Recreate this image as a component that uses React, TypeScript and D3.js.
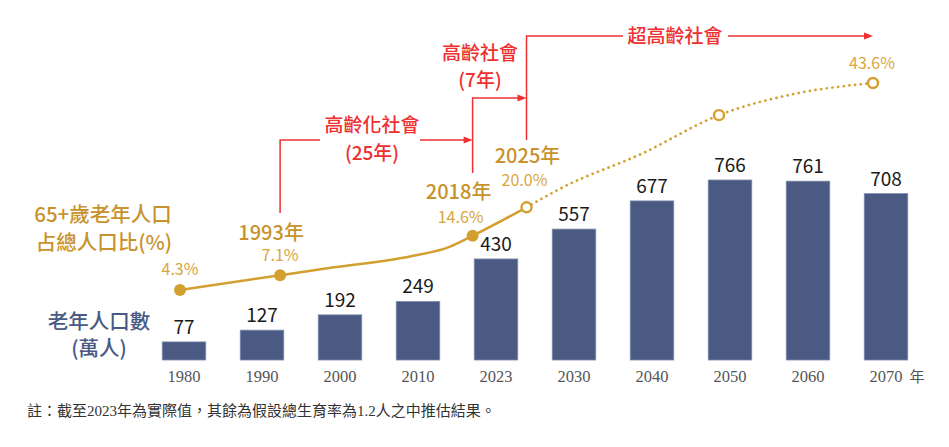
import React from "react";
import * as d3 from "d3";

const W = 949;
const H = 447;

// Bars: elderly population (10k persons)
const categories = ["1980", "1990", "2000", "2010", "2023", "2030", "2040", "2050", "2060", "2070"];
const elderly = [77, 127, 192, 249, 430, 557, 677, 766, 761, 708];

// Line: share of 65+ (%), actual (solid) and projected (dotted)
const actualYears = [1980, 1993, 2000, 2010, 2015, 2018, 2025];
const actualPct = [4.3, 7.1, 8.6, 10.7, 12.5, 14.6, 20.0];
const projYears = [2025, 2030, 2040, 2050, 2060, 2070];
const projPct = [20.0, 24.0, 30.2, 37.5, 41.6, 43.6];

const solidMarkYears = [1980, 1993, 2018];
const solidMarkPct = [4.3, 7.1, 14.6];
const hollowMarkYears = [2025, 2050, 2070];
const hollowMarkPct = [20.0, 37.5, 43.6];

const pctLabelYears = [1980, 1993, 2018, 2025, 2070];
const pctLabelValues = [4.3, 7.1, 14.6, 20.0, 43.6];
const pctLabels = ["4.3%", "7.1%", "14.6%", "20.0%", "43.6%"];
const yearLabelYears = [1993, 2018, 2025];
const yearLabelValues = [7.1, 14.6, 20.0];
const yearLabels = ["1993年", "2018年", "2025年"];

const stageNames = ["高齡化社會", "高齡社會", "超高齡社會"];
const stageDurations = ["(25年)", "(7年)", ""];
const stageYears = [1993, 2018, 2025, 2070];

const note = "註：截至2023年為實際值，其餘為假設總生育率為1.2人之中推估結果。";

const BAR = "#4A5A82";
const GOLD_LINE = "#D39F31";
const GOLD_TEXT = "#C8922C";
const GOLD_LIGHT = "#D9A640";
const RED = "#EE3030";
const SANS = "'Noto Sans CJK TC', 'Noto Sans', sans-serif";
const SERIF = "'Liberation Serif', 'Noto Sans CJK TC', serif";

export default function App() {
  const x = d3.scaleBand<string>().domain(categories).range([145, 925]).paddingInner(0.442).paddingOuter(0.221);
  const y = d3.scaleLinear().domain([0, 766]).range([360, 180]);
  const xYear = d3.scaleLinear().domain([1980, 2070]).range([180, 873]);
  const yPct = d3.scaleLinear().domain([4.3, 43.6]).range([290, 83]);

  const line = d3
    .line<[number, number]>()
    .x((d) => xYear(d[0]))
    .y((d) => yPct(d[1]))
    .curve(d3.curveMonotoneX);

  const actualPath = line(actualYears.map((yr, i) => [yr, actualPct[i]] as [number, number])) || "";
  const projPath = line(projYears.map((yr, i) => [yr, projPct[i]] as [number, number])) || "";

  const pctLabelOffset: [number, number][] = [
    [0, -15],
    [0, -14],
    [-12, -13],
    [-2, -21],
    [-1, -14],
  ];
  const yearLabelOffset: [number, number][] = [
    [-9, -35],
    [-14, -37],
    [1, -44],
  ];

  // annotation geometry
  const sx = stageYears.map((s) => xYear(s));
  const levels = [140, 98, 36];
  const bottoms = [213, 173, 140];
  const textCx = [372, 480, 675];
  const gaps: [number, number][] = [
    [320, 420],
    [0, 0],
    [623, 728],
  ];

  const arrow = (tx: number, ty: number) => `M${tx},${ty} L${tx - 9},${ty - 3.5} L${tx - 9},${ty + 3.5} Z`;

  return (
    <svg
      width={W}
      height={H}
      viewBox={`0 0 ${W} ${H}`}
      style={{ position: "absolute", left: 0, top: 0, background: "#fff" }}
    >
      {/* bars */}
      {categories.map((c, i) => (
        <g key={c}>
          <rect
            x={x(c)}
            y={y(elderly[i])}
            width={x.bandwidth()}
            height={y(0) - y(elderly[i])}
            fill={BAR}
            stroke="#7D8BAE"
            strokeWidth={0.8}
          />
          <text
            x={(x(c) as number) + x.bandwidth() / 2}
            y={y(elderly[i]) - 8}
            textAnchor="middle"
            fontFamily={SANS}
            fontSize={19}
            fill="#1a1a1a"
          >
            {elderly[i]}
          </text>
          <text
            x={(x(c) as number) + x.bandwidth() / 2}
            y={382}
            textAnchor="middle"
            fontFamily={SERIF}
            fontSize={16.5}
            fill="#555"
          >
            {c}
          </text>
        </g>
      ))}
      <text x={917} y={382} textAnchor="middle" fontFamily={SANS} fontSize={15} fill="#555">
        年
      </text>

      {/* line */}
      <path d={actualPath} fill="none" stroke={GOLD_LINE} strokeWidth={2.5} />
      <path
        d={projPath}
        fill="none"
        stroke={GOLD_LINE}
        strokeWidth={2.7}
        strokeDasharray="0.1 5.6"
        strokeLinecap="round"
      />
      {solidMarkYears.map((yr, i) => (
        <circle key={yr} cx={xYear(yr)} cy={yPct(solidMarkPct[i])} r={6} fill={GOLD_LINE} />
      ))}
      {hollowMarkYears.map((yr, i) => (
        <circle
          key={yr}
          cx={xYear(yr)}
          cy={yPct(hollowMarkPct[i])}
          r={5}
          fill="#fff"
          stroke={GOLD_LINE}
          strokeWidth={2.4}
        />
      ))}

      {/* percent labels */}
      {pctLabelYears.map((yr, i) => (
        <text
          key={yr}
          x={xYear(yr) + pctLabelOffset[i][0]}
          y={yPct(pctLabelValues[i]) + pctLabelOffset[i][1]}
          textAnchor="middle"
          fontFamily={SANS}
          fontSize={16}
          fill={GOLD_LIGHT}
        >
          {pctLabels[i]}
        </text>
      ))}
      {yearLabelYears.map((yr, i) => (
        <text
          key={yr}
          x={xYear(yr) + yearLabelOffset[i][0]}
          y={yPct(yearLabelValues[i]) + yearLabelOffset[i][1]}
          textAnchor="middle"
          fontFamily={SANS}
          fontSize={20}
          fontWeight={500}
          fill={GOLD_TEXT}
        >
          {yearLabels[i]}
        </text>
      ))}

      {/* left legends */}
      <text x={103} y={222} textAnchor="middle" fontFamily={SANS} fontSize={20.5} fontWeight={500} fill={GOLD_TEXT}>
        65+歲老年人口
      </text>
      <text x={104} y={250} textAnchor="middle" fontFamily={SANS} fontSize={20.5} fontWeight={500} fill={GOLD_TEXT}>
        占總人口比(%)
      </text>
      <text x={99} y={329} textAnchor="middle" fontFamily={SANS} fontSize={20.5} fontWeight={500} fill={BAR}>
        老年人口數
      </text>
      <text x={99} y={356} textAnchor="middle" fontFamily={SANS} fontSize={20.5} fontWeight={500} fill={BAR}>
        (萬人)
      </text>

      {/* stage annotations */}
      {stageNames.map((name, i) => {
        const x0 = sx[i];
        const x1 = sx[i + 1];
        const ly = levels[i];
        const [g0, g1] = gaps[i];
        const segs =
          g0 === 0
            ? `M${x0},${bottoms[i]} L${x0},${ly} L${x1 - 8},${ly}`
            : `M${x0},${bottoms[i]} L${x0},${ly} L${g0},${ly} M${g1},${ly} L${x1 - 8},${ly}`;
        return (
          <g key={name}>
            <path d={segs} fill="none" stroke={RED} strokeWidth={1.5} />
            <path d={arrow(x1, ly)} fill={RED} />
            {i === 2 ? (
              <text x={textCx[i]} y={ly + 7} textAnchor="middle" fontFamily={SANS} fontSize={19} fontWeight={500} fill={RED}>
                {name}
              </text>
            ) : (
              <>
                <text
                  x={textCx[i]}
                  y={i === 0 ? 132 : 60}
                  textAnchor="middle"
                  fontFamily={SANS}
                  fontSize={19}
                  fontWeight={500}
                  fill={RED}
                >
                  {name}
                </text>
                <text
                  x={textCx[i]}
                  y={i === 0 ? 160 : 87}
                  textAnchor="middle"
                  fontFamily={SANS}
                  fontSize={19}
                  fontWeight={500}
                  fill={RED}
                >
                  {stageDurations[i]}
                </text>
              </>
            )}
          </g>
        );
      })}

      {/* footnote */}
      <text x={27} y={416} fontFamily={SERIF} fontSize={15} fill="#333">
        {note}
      </text>
    </svg>
  );
}
